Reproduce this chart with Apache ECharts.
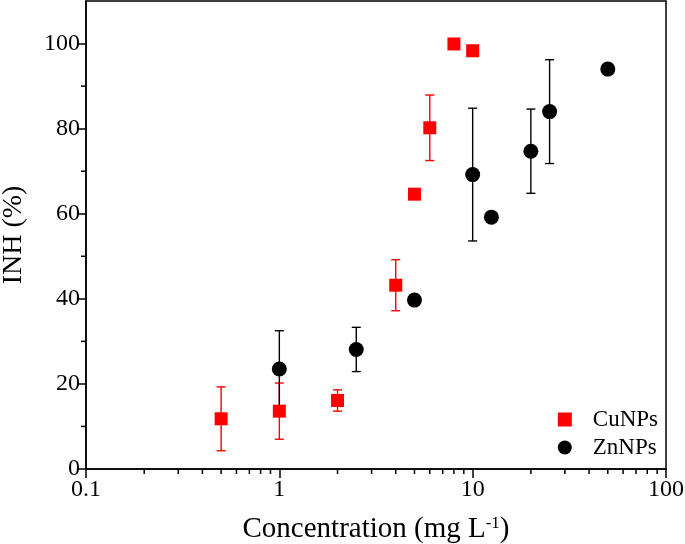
<!DOCTYPE html>
<html>
<head>
<meta charset="utf-8">
<script src="https://cdn.jsdelivr.net/npm/echarts@6/dist/echarts.min.js"></script>
<style>html,body{margin:0;padding:0;background:#fff;}#c{width:685px;height:544px;}</style>
</head>
<body>
<div id="c"></div>
<script>
// Data
const cuX = [0.5, 1, 2, 4, 5, 6, 8, 10];
const cuY = [11.8, 13.6, 16.1, 43.2, 64.6, 80.2, 99.9, 98.3];
const cuErr = [7.5, 6.6, 2.5, 6.0, 0, 7.7, 0, 1.2];
const znX = [1, 2.5, 5, 10, 12.5, 20, 25, 50];
const znY = [23.5, 28.1, 39.7, 69.2, 59.2, 74.7, 84.0, 94.0];
const znErr = [9.0, 5.2, 0, 15.6, 0, 9.9, 12.2, 0];
const xMinorTicks = [0.2,0.3,0.4,0.5,0.6,0.7,0.8,0.9,2,3,4,5,6,7,8,9,20,30,40,50,60,70,80,90];
const yMinorTicks = [10, 30, 50, 70, 90];
const yTickLabels = [0, 20, 40, 60, 80, 100];

const FONT = 'Liberation Serif';

function errData(xs, ys, es) {
  const out = [];
  xs.forEach((x, i) => { if (es[i] > 0) out.push([x, ys[i] - es[i], ys[i] + es[i]]); });
  return out;
}
function errSeries(name, color, data) {
  return {
    type: 'custom', name: name, clip: false, z: 2,
    data: data,
    encode: { x: 0, y: [1, 2] },
    renderItem: function (params, api) {
      const x = api.value(0);
      const lo = api.coord([x, api.value(1)]);
      const hi = api.coord([x, api.value(2)]);
      const w = 4.5;
      const st = { stroke: color, lineWidth: 1.4 };
      return { type: 'group', children: [
        { type: 'line', shape: { x1: lo[0], y1: lo[1], x2: hi[0], y2: hi[1] }, style: st },
        { type: 'line', shape: { x1: lo[0] - w, y1: lo[1], x2: lo[0] + w, y2: lo[1] }, style: st },
        { type: 'line', shape: { x1: hi[0] - w, y1: hi[1], x2: hi[0] + w, y2: hi[1] }, style: st }
      ]};
    }
  };
}

const chart = echarts.init(document.getElementById('c'), null, { renderer: 'canvas' });
chart.setOption({
  animation: false,
  backgroundColor: '#fff',
  grid: { left: 86, right: 19, top: 1, bottom: 75, show: true, borderColor: '#000', borderWidth: 1.5,
    backgroundColor: 'transparent', containLabel: false, outerBoundsMode: 'none' },
  xAxis: {
    type: 'log', logBase: 10, min: 0.1, max: 100,
    name: 'Concentration (mg L{sup|-1})', nameLocation: 'middle', nameGap: 46,
    nameTextStyle: { fontFamily: FONT, fontSize: 29, color: '#000',
      rich: { sup: { fontFamily: FONT, fontSize: 17, color: '#000', verticalAlign: 'top', padding: [0, 0, 10, 0] } } },
    axisLine: { show: true, lineStyle: { color: '#000', width: 1.5 } },
    axisTick: { show: true, inside: false, length: 9, lineStyle: { color: '#000', width: 1.5 } },
    axisLabel: { fontFamily: FONT, fontSize: 24, color: '#000', margin: 9,
      formatter: function (v) { return String(+v.toPrecision(3)); } },
    splitLine: { show: false }, minorTick: { show: false }
  },
  yAxis: {
    type: 'value', min: 0, max: 110, interval: 10,
    name: 'INH (%)', nameLocation: 'middle', nameGap: 58,
    nameTextStyle: { fontFamily: FONT, fontSize: 28, color: '#000' },
    axisLine: { show: true, lineStyle: { color: '#000', width: 1.5 } },
    axisTick: { show: true, inside: false, length: 9, customValues: yTickLabels, lineStyle: { color: '#000', width: 1.5 } },
    axisLabel: { fontFamily: FONT, fontSize: 24, color: '#000', margin: 6, customValues: yTickLabels },
    splitLine: { show: false }
  },
  legend: {
    orient: 'vertical', right: 22, bottom: 80,
    itemWidth: 14, itemHeight: 14, itemGap: 5,
    data: [{ name: 'CuNPs', icon: 'rect' }, { name: 'ZnNPs', icon: 'circle' }],
    textStyle: { fontFamily: FONT, fontSize: 23, color: '#000', padding: [0, 0, 0, 16] }
  },
  series: [
    {
      type: 'custom', name: 'xminor', clip: false, silent: true, z: 1,
      data: xMinorTicks.map(v => [v]),
      encode: { x: 0 },
      renderItem: function (params, api) {
        const p = api.coord([api.value(0), 0]);
        return { type: 'line', shape: { x1: p[0], y1: p[1], x2: p[0], y2: p[1] + 5 }, style: { stroke: '#000', lineWidth: 1.5 } };
      }
    },
    {
      type: 'custom', name: 'yminor', clip: false, silent: true, z: 1,
      data: yMinorTicks.map(v => [0.1, v]),
      encode: { x: 0, y: 1 },
      renderItem: function (params, api) {
        const p = api.coord([api.value(0), api.value(1)]);
        return { type: 'line', shape: { x1: p[0], y1: p[1], x2: p[0] - 5, y2: p[1] }, style: { stroke: '#000', lineWidth: 1.5 } };
      }
    },
    errSeries('cuErr', '#ff0000', errData(cuX, cuY, cuErr)),
    errSeries('znErr', '#000000', errData(znX, znY, znErr)),
    {
      type: 'scatter', name: 'CuNPs', symbol: 'rect', symbolSize: 13, z: 3,
      itemStyle: { color: '#ff0000', opacity: 1 },
      data: cuX.map((x, i) => [x, cuY[i]])
    },
    {
      type: 'scatter', name: 'ZnNPs', symbol: 'circle', symbolSize: 15, z: 3,
      itemStyle: { color: '#000000', opacity: 1 },
      data: znX.map((x, i) => [x, znY[i]])
    }
  ]
});
</script>
</body>
</html>
